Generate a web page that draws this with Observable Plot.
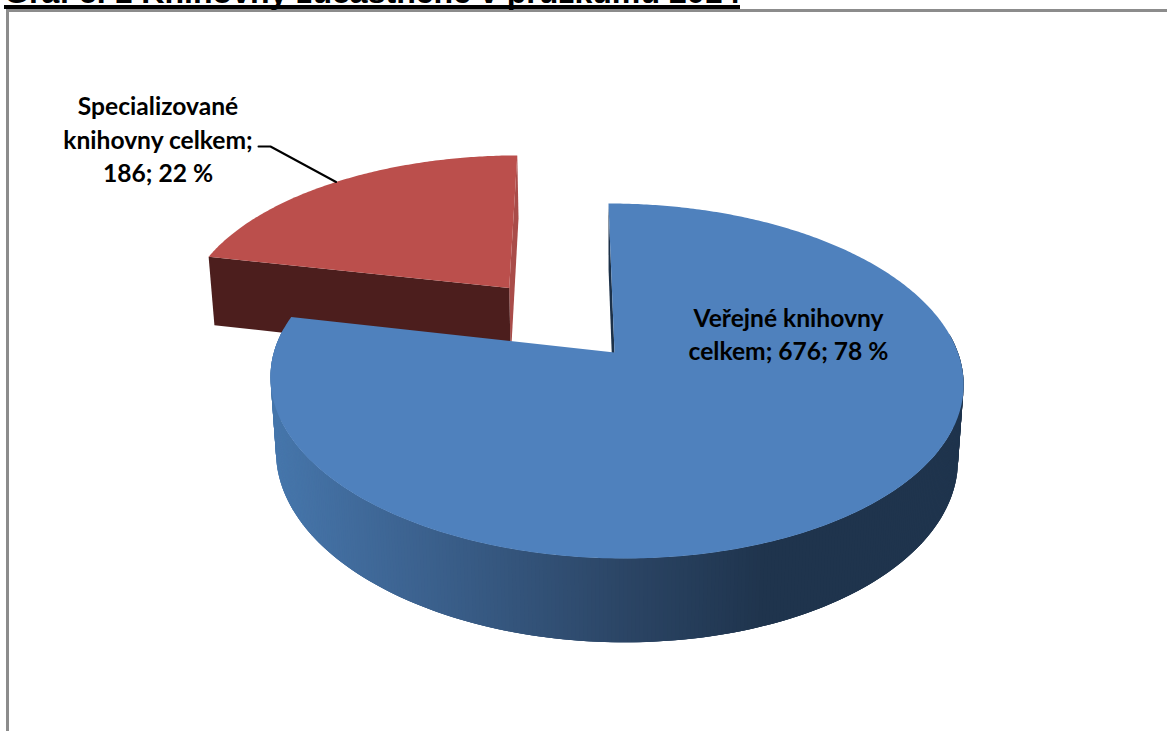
<!DOCTYPE html>
<html lang="cs">
<head>
<meta charset="utf-8">
<script src="https://cdn.jsdelivr.net/npm/d3@7"></script>
<script src="https://cdn.jsdelivr.net/npm/@observablehq/plot@0.6"></script>
<style>
html,body{margin:0;padding:0;background:#fff;width:1167px;height:731px;overflow:hidden}
#wrap{position:relative;width:1167px;height:731px;overflow:hidden}
#title{position:absolute;left:4px;bottom:722px;white-space:nowrap;font:bold 32.1px "Liberation Sans",Arial,sans-serif;line-height:25px;color:#000;border-bottom:4px solid #000}
#frame{position:absolute;left:6px;top:9px;width:1167px;height:731px;border-left:3px solid #8c8c8c;border-top:3px solid #8c8c8c}
#chart{position:absolute;left:0;top:0}
#chart svg{display:block}
</style>
</head>
<body>
<div id="wrap">
  <div id="frame"></div>
  <div id="chart"></div>
  <div id="title">Graf č. 1 Knihovny zúčastněné v průzkumu 2014</div>
</div>
<script>
const categories = ["Veřejné knihovny celkem", "Specializované knihovny celkem"];
const values = [676, 186];
const percents = [78, 22];
const labelBreaks = [
  ["Veřejné knihovny", "celkem; 676; 78 %"],
  ["Specializované", "knihovny celkem;", "186; 22 %"]
];

// view parameters of the tilted pie
const W = 1167, H = 731;
const view = {xa: 614, ya: 352, R: 342, S: 172.9, k: 0.1606, m: 0.004, a: -7, T: 75, n: 0.016};
const explode = [0, 0.51];

function project(X, Y, low) {
  const w = 1 + view.k * Y - view.m * X + view.n * low;
  return {
    x: view.xa + (view.R * X + view.a * Y) / w,
    y: view.ya + (-view.S * Y + view.T * low) / w
  };
}

const arcs = d3.pie().sort(null).value(d => d)(values);

function slice(i) {
  const arc = arcs[i], mid = (arc.startAngle + arc.endAngle) / 2;
  const ox = explode[i] * Math.sin(mid), oy = explode[i] * Math.cos(mid);
  const at = (t, r, low) => project(ox + r * Math.sin(t), oy + r * Math.cos(t), low);
  const steps = d3.range(arc.startAngle, arc.endAngle, 0.01).concat(arc.endAngle);
  return {arc, mid, at, steps};
}

const tagged = (pts, id, c) => pts.map(p => ({...p, id, c}));

const blue = slice(0), red = slice(1);

const redBack = tagged([
  red.at(red.arc.endAngle, 1, 0), red.at(red.arc.endAngle, 1, 1),
  red.at(0, 0, 1), red.at(0, 0, 0)
], "rb", "#a94c49");

const redFront = tagged([
  red.at(0, 0, 0), red.at(red.arc.startAngle, 1, 0),
  red.at(red.arc.startAngle, 1, 1), red.at(0, 0, 1)
], "rf", "#4c1e1d");

const redTop = tagged([red.at(0, 0, 0), ...red.steps.map(t => red.at(t, 1, 0))], "rt", "#bb4f4c");

const blueEdge = tagged([
  blue.at(0, 0, 0), blue.at(blue.arc.startAngle, 1, 0),
  blue.at(blue.arc.startAngle, 1, 1), blue.at(0, 0, 1)
], "be", "#1c3149");

const wallColor = d3.scaleLinear()
  .domain([275, 400, 620, 760])
  .range(["#4676ab", "#3d6492", "#2b4565", "#1f344d"])
  .clamp(true);

// only the front of the rim shows; each strip runs under the next one so no seams appear
const wall = [];
blue.steps.slice(0, -1).forEach((t, j) => {
  if (Math.cos(t) > 0.12) return;
  const u = t + 0.03;
  const quad = [blue.at(t, 1, 0), blue.at(u, 1, 0), blue.at(u, 1, 1), blue.at(t, 1, 1)];
  wall.push(...tagged(quad, "w" + j, wallColor(d3.mean(quad, p => p.x))));
});

const blueTop = tagged([blue.at(0, 0, 0), ...blue.steps.map(t => blue.at(t, 1, 0))], "bt", "#4f81bd");

const polygon = (data, extra = {}) =>
  Plot.line(data, {x: "x", y: "y", z: "id", fill: "c", stroke: "none", ...extra});

// leader of the small slice, from the rim to the end of the label
const leader = [{x: 258, y: 146}, {x: 270, y: 146}, red.at(red.mid, 1, 0)];

const labels = [
  {text: labelBreaks[0].join("\n"), x: 788, y: 332.5},
  {text: labelBreaks[1].join("\n"), x: 157.5, y: 137.5}
];

const chart = Plot.plot({
  width: W, height: H,
  margin: 0,
  style: {background: "transparent"},
  x: {domain: [0, W], range: [0, W], axis: null},
  y: {domain: [0, H], range: [0, H], axis: null},
  color: {type: "identity"},
  marks: [
    polygon(redBack),
    polygon(redFront),
    polygon(redTop),
    Plot.line(leader, {x: "x", y: "y", stroke: "#000", strokeWidth: 2}),
    polygon(blueEdge),
    polygon(wall),
    polygon(blueTop),
    Plot.text(labels, {
      x: "x", y: "y", text: "text",
      fontFamily: "Lato, Carlito, sans-serif", fontWeight: 700, fontSize: 24.6,
      lineHeight: 1.36, fill: "#000", textAnchor: "middle"
    })
  ]
});
document.getElementById("chart").append(chart);
</script>
</body>
</html>
